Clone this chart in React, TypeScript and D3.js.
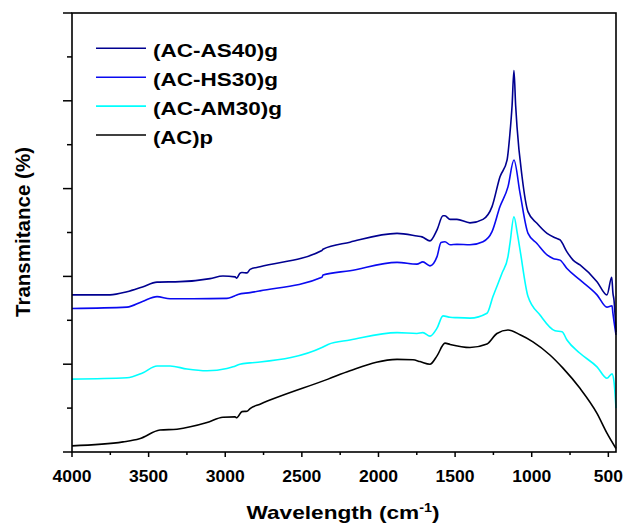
import React from "react";
import * as d3 from "d3";

const xTicks = [4000, 3500, 3000, 2500, 2000, 1500, 1000, 500];
const xMinorTicks = [3750, 3250, 2750, 2250, 1750, 1250, 750];
const yMajorTicks = [0, 20, 40, 60, 80, 100];
const yMinorTicks = [10, 30, 50, 70, 90];

const seriesNames = ["(AC-AS40)g", "(AC-HS30)g", "(AC-AM30)g", "(AC)p"];
const seriesColors = ["#000090", "#0a0af0", "#00ffff", "#000000"];

const as40: [number, number][] = [
  [4000, 35.8], [3752, 35.8], [3641, 36.5], [3540, 37.6], [3445, 38.7], [3295, 38.8], [3099, 39.5],
  [3015, 40.1], [2936, 39.9], [2925, 39.6], [2905, 40.7], [2891, 40.9], [2858, 40.8], [2838, 41.6],
  [2773, 42.2], [2369, 45.9], [2362, 46.2], [2186, 47.8], [1879, 49.8], [1749, 49.2], [1716, 49.0],
  [1664, 48.1], [1618, 50.6], [1579, 53.8], [1566, 53.8], [1533, 53.0], [1488, 53.0], [1403, 52.2],
  [1318, 53.0], [1259, 55.9], [1207, 62.7], [1161, 66.5], [1142, 72.6], [1128, 79.0], [1116, 86.9],
  [1105, 79.0], [1096, 74.1], [1063, 62.7], [1024, 54.7], [966, 52.1], [900, 49.8], [848, 48.8],
  [815, 48.3], [770, 45.6], [730, 43.7], [685, 42.6], [574, 38.8], [509, 35.8], [478, 39.8],
  [470, 36.2], [463, 34.6], [450, 27.3],
];

const hs30: [number, number][] = [
  [4000, 32.7], [3641, 33.0], [3540, 34.3], [3445, 35.4], [3360, 34.9], [3210, 34.9], [2989, 35.0],
  [2949, 35.4], [2917, 35.9], [2838, 36.3], [2773, 36.7], [2369, 39.8], [2362, 40.3], [2186, 41.3],
  [1879, 43.2], [1749, 42.8], [1710, 43.3], [1664, 42.4], [1618, 44.5], [1592, 47.7], [1566, 47.9],
  [1533, 47.2], [1488, 47.3], [1403, 47.2], [1318, 47.9], [1259, 50.2], [1207, 55.9], [1155, 60.4],
  [1116, 66.5], [1076, 58.9], [1024, 49.8], [966, 47.5], [900, 44.9], [861, 44.1], [815, 43.7],
  [770, 41.8], [685, 39.2], [574, 35.8], [509, 33.0], [476, 33.3], [470, 31.6], [450, 26.7],
];

const am30: [number, number][] = [
  [4000, 16.6], [3641, 16.9], [3540, 18.0], [3445, 19.6], [3360, 19.6], [3250, 18.9], [3119, 18.5],
  [2989, 19.0], [2949, 19.4], [2904, 20.0], [2838, 20.3], [2773, 20.5], [2369, 23.8], [2329, 24.5],
  [2186, 25.5], [1879, 27.2], [1749, 27.0], [1710, 27.2], [1664, 26.4], [1618, 28.2], [1579, 31.0],
  [1533, 30.7], [1488, 30.6], [1403, 30.5], [1292, 31.6], [1253, 35.4], [1194, 40.7], [1155, 44.5],
  [1142, 47.5], [1116, 53.6], [1094, 49.8], [1076, 46.0], [1024, 35.4], [946, 31.2], [848, 27.6],
  [802, 27.4], [770, 25.5], [685, 22.5], [574, 19.4], [509, 16.8], [476, 17.8], [463, 16.0], [450, 10.0],
];

const acp: [number, number][] = [
  [4000, 1.4], [3667, 2.3], [3560, 3.0], [3426, 5.0], [3315, 5.2], [3119, 6.7], [3015, 7.9],
  [2936, 8.0], [2925, 7.8], [2891, 9.2], [2858, 9.3], [2838, 9.9], [2773, 10.9], [2329, 16.6],
  [2186, 18.5], [1879, 21.1], [1775, 21.0], [1729, 20.6], [1664, 20.0], [1618, 21.9], [1566, 24.8],
  [1533, 24.5], [1403, 23.8], [1292, 24.6], [1227, 27.0], [1155, 27.8], [1076, 26.7], [992, 25.1],
  [881, 22.1], [796, 19.1], [685, 14.5], [574, 8.8], [509, 4.3], [450, 0.8],
];

const seriesData = [as40, hs30, am30, acp];

const W = 626;
const H = 524;
const left = 72;
const right = 616;
const top = 13;
const bottom = 452;
const FONT = "'Liberation Sans', Arial, Helvetica, sans-serif";

export default function App() {
  const x = d3.scaleLinear().domain([4000, 450]).range([left, right]);
  const y = d3.scaleLinear().domain([0, 100]).range([bottom, top]);
  const line = d3
    .line<[number, number]>()
    .x((d) => x(d[0]))
    .y((d) => y(d[1]))
    .curve(d3.curveMonotoneX);

  const labelLen = (t: number) => (String(t).length === 4 ? 39 : 29);
  const legendLens = [125, 125, 129, 60];

  return (
    <svg
      width={W}
      height={H}
      style={{ position: "absolute", left: 0, top: 0, background: "#fff" }}
      fontFamily={FONT}
    >
      <rect x={0} y={0} width={W} height={H} fill="#fff" />
      {seriesData.map((d, i) => (
        <path
          key={i}
          d={line(d) || ""}
          fill="none"
          stroke={seriesColors[i]}
          strokeWidth={1.6}
          strokeLinejoin="round"
        />
      ))}
      <rect
        x={left}
        y={top}
        width={right - left}
        height={bottom - top}
        fill="none"
        stroke="#000"
        strokeWidth={1.6}
      />
      {xTicks.map((t) => (
        <g key={"xt" + t}>
          <line x1={x(t)} x2={x(t)} y1={bottom} y2={bottom + 5} stroke="#000" strokeWidth={1.5} />
          <text
            x={x(t)}
            y={481.5}
            textAnchor="middle"
            fontSize={16}
            fontWeight="bold"
            textLength={labelLen(t)}
            lengthAdjust="spacingAndGlyphs"
          >
            {t}
          </text>
        </g>
      ))}
      {xMinorTicks.map((t) => (
        <line key={"xm" + t} x1={x(t)} x2={x(t)} y1={bottom} y2={bottom + 3} stroke="#000" strokeWidth={1.5} />
      ))}
      {yMajorTicks.map((t) => (
        <line key={"ym" + t} x1={left - 9} x2={left} y1={y(t)} y2={y(t)} stroke="#000" strokeWidth={1.5} />
      ))}
      {yMinorTicks.map((t) => (
        <line key={"yn" + t} x1={left - 5} x2={left} y1={y(t)} y2={y(t)} stroke="#000" strokeWidth={1.5} />
      ))}
      <text
        x={343}
        y={518.5}
        textAnchor="middle"
        fontSize={19}
        fontWeight="bold"
        textLength={193}
        lengthAdjust="spacingAndGlyphs"
      >
        Wavelength (cm
        <tspan dy={-7} fontSize={12}>
          -1
        </tspan>
        <tspan dy={7}>)</tspan>
      </text>
      <text
        transform="rotate(-90)"
        x={-232}
        y={30}
        textAnchor="middle"
        fontSize={20}
        fontWeight="bold"
        textLength={170}
        lengthAdjust="spacingAndGlyphs"
      >
        Transmitance (%)
      </text>
      {seriesNames.map((n, i) => {
        const ly = 48.3 + i * 28.9;
        return (
          <g key={n}>
            <line x1={96} x2={146} y1={ly} y2={ly} stroke={seriesColors[i]} strokeWidth={1.6} />
            <text
              x={153}
              y={ly + 9}
              fontSize={19}
              fontWeight="bold"
              textLength={legendLens[i]}
              lengthAdjust="spacingAndGlyphs"
            >
              {n}
            </text>
          </g>
        );
      })}
    </svg>
  );
}
